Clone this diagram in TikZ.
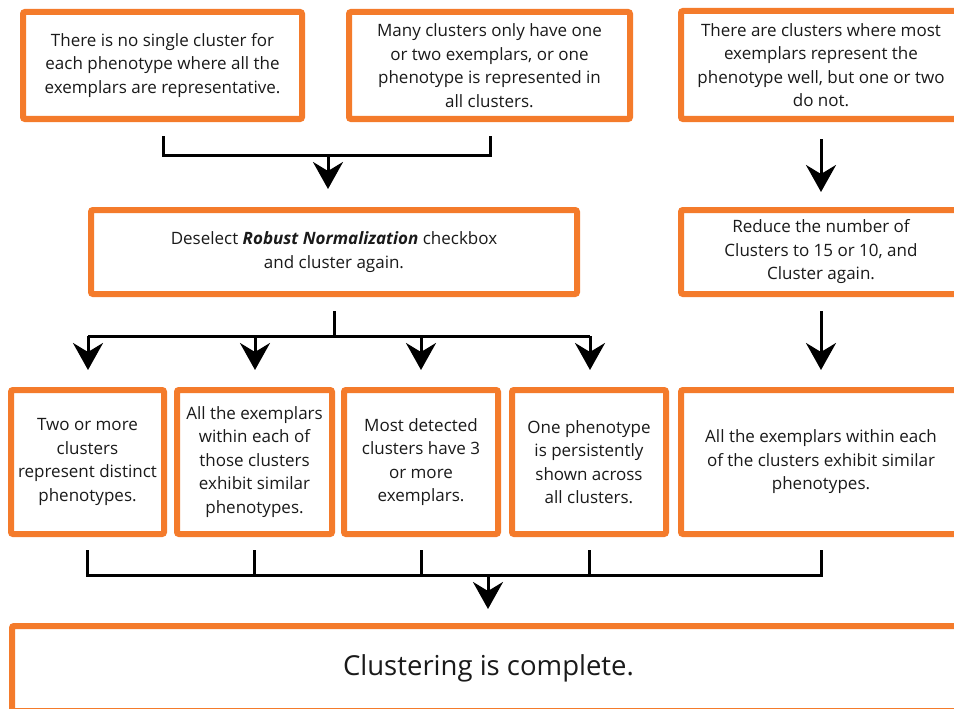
\documentclass[tikz,border=0pt]{standalone}
\usepackage{fontspec}
\setmainfont{Open Sans}
\usepackage{xcolor}
\usetikzlibrary{arrows.meta,positioning}
\definecolor{boxorange}{HTML}{F47B2B}
\definecolor{inkgray}{HTML}{1A1A1A}

\begin{document}
\begin{tikzpicture}[x=1pt,y=-1pt,
    box/.style={draw=boxorange, line width=6pt, rounded corners=2pt, fill=white,
      align=center, inner sep=0pt, text=inkgray,
      font=\fontsize{17}{23.5}\selectfont},
    line/.style={line width=3pt, black},
    arr/.style={line, -{Stealth[length=27pt,width=30pt,inset=9pt]}}]
    \useasboundingbox (0,0) rectangle (954,709);
    \clip (0,0) rectangle (954,709);
    % Observations
    \node[box, minimum width=279pt, minimum height=107pt] (a1) at (162.5,65.5)
      {There is no single cluster for\\each phenotype where all the\\exemplars are representative.};
    \node[box, minimum width=281pt, minimum height=107pt] (a2) at (489.5,65.5)
      {Many clusters only have one\\or two exemplars, or one\\phenotype is represented in\\all clusters.};
    \node[box, minimum width=280pt, minimum height=108pt] (a3) at (821,65)
      {There are clusters where most\\exemplars represent the\\phenotype well, but one or two\\do not.};
    % Actions
    \node[box, minimum width=486pt, minimum height=84pt] (b1) at (334,252)
      {Deselect \textbf{\textit{Robust Normalization}} checkbox\\and cluster again.};
    \node[box, minimum width=280pt, minimum height=84pt] (b2) at (821,252)
      {Reduce the number of\\Clusters to 15 or 10, and\\Cluster again.};
    % Results
    \node[box, minimum width=153pt, minimum height=144pt] (c1) at (87.5,462)
      {Two or more\\clusters\\represent distinct\\phenotypes.};
    \node[box, minimum width=155pt, minimum height=144pt] (c2) at (254.5,462)
      {All the exemplars\\within each of\\those clusters\\exhibit similar\\phenotypes.};
    \node[box, minimum width=154pt, minimum height=144pt] (c3) at (421,462)
      {Most detected\\clusters have 3\\or more\\exemplars.};
    \node[box, minimum width=154pt, minimum height=144pt] (c4) at (589,462)
      {One phenotype\\is persistently\\shown across\\all clusters.};
    \node[box, minimum width=280pt, minimum height=144pt] (c5) at (821,462)
      {All the exemplars within each\\of the clusters exhibit similar\\phenotypes.};
    % Done
    \node[box, minimum width=953pt, minimum height=85pt,
      font=\fontsize{27.5}{32}\selectfont] (d) at (488.5,668.5)
      {\raisebox{3pt}{Clustering is complete.}};
    % Top bracket
    \coordinate (t1) at (163,136);
    \coordinate (t2) at (490,136);
    \coordinate (m1) at (328,155);
    \draw[line] (t1) |- (m1) -| (t2);
    \draw[arr, shorten >=18pt] (m1) -- (m1 |- b1.north);
    % Right column
    \draw[arr] ([yshift=-17pt]a3.south) -- ([yshift=15pt]b2.north);
    \draw[arr] ([yshift=-14pt]b2.south) -- ([yshift=17pt]c5.north);
    % Middle fan
    \coordinate (h1) at (88,336);
    \coordinate (h2) at (255,336);
    \coordinate (h3) at (421,336);
    \coordinate (h4) at (590,336);
    \draw[line] ([yshift=-14pt]b1.south) -- (b1.south |- h1);
    \draw[line] (h1) -- (h4);
    \draw[arr, shorten >=17pt] (h1) -- (h1 |- c1.north);
    \draw[arr, shorten >=17pt] (h2) -- (h2 |- c2.north);
    \draw[arr, shorten >=17pt] (h3) -- (h3 |- c3.north);
    \draw[arr, shorten >=17pt] (h4) -- (h4 |- c4.north);
    % Bottom bracket
    \coordinate (j) at (488,575);
    \draw[line] ([yshift=-13pt]c1.south) |- (j) -| ([yshift=-13pt]c5.south);
    \draw[line] ([yshift=-13pt]c2.south) -- (c2.south |- j);
    \draw[line] ([yshift=-13pt]c3.south) -- (c3.south |- j);
    \draw[line] ([yshift=-13pt]c4.south) -- (c4.south |- j);
    \draw[arr, shorten >=14pt] (j) -- (j |- d.north);
\end{tikzpicture}
\end{document}
